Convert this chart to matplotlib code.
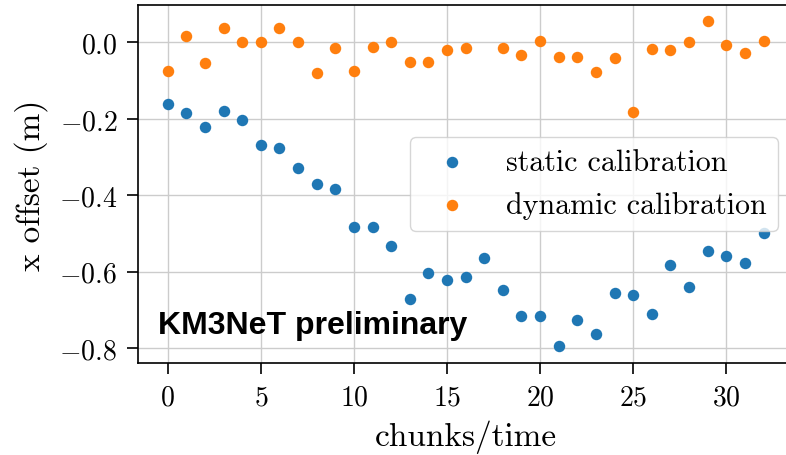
import numpy as np
import matplotlib
matplotlib.use("Agg")
import matplotlib.pyplot as plt

plt.rcParams['font.family'] = 'serif'
plt.rcParams['font.serif'] = ['cmr10']
plt.rcParams['mathtext.fontset'] = 'cm'
plt.rcParams['axes.formatter.use_mathtext'] = True

chunks = list(range(33))
static_cal = [-0.160, -0.184, -0.222, -0.180, -0.204, -0.268, -0.276, -0.329, -0.371, -0.384,
              -0.483, -0.483, -0.532, -0.671, -0.603, -0.623, -0.615, -0.563, -0.647, -0.715,
              -0.715, -0.795, -0.727, -0.763, -0.655, -0.662, -0.711, -0.582, -0.639, -0.547,
              -0.560, -0.578, -0.499]
dynamic_cal = [-0.075, 0.016, -0.055, 0.037, 0.000, 0.000, 0.037, 0.000, -0.080, -0.015,
               -0.075, -0.011, 0.000, -0.051, -0.051, -0.020, -0.015, np.nan, -0.015, -0.033,
               0.004, -0.037, -0.037, -0.078, -0.040, -0.183, -0.016, -0.020, 0.000, 0.057,
               -0.007, -0.028, 0.004]
yticks = [0.0, -0.2, -0.4, -0.6, -0.8]
xticks = [0, 5, 10, 15, 20, 25, 30]

fig = plt.figure(figsize=(7.86, 4.56), dpi=100)
ax = fig.add_axes([138/786, 1 - 364/456, (793.3 - 138)/786, (364 - 6)/456])

ax.scatter(chunks, static_cal, s=68, lw=0, color='#1f77b4', label='static calibration', zorder=3)
ax.scatter(chunks, dynamic_cal, s=68, lw=0, color='#ff7f0e', label='dynamic calibration', zorder=3)

ax.set_xlim(-1.6, 33.6)
ax.set_ylim(-0.839, 0.098)
ax.set_xticks(xticks)
ax.set_yticks(yticks)
ax.set_axisbelow(True)
ax.grid(True, color='#cccccc', lw=1.0)

for side in ['left', 'bottom', 'top']:
    ax.spines[side].set_linewidth(1.2)
ax.spines['right'].set_visible(False)
ax.tick_params(axis='both', which='major', labelsize=20, length=8, width=1.2, pad=7,
               top=False, right=False)

ax.set_xlabel('chunks/time', fontsize=24, labelpad=7)
ax.set_ylabel('x offset (m)', fontsize=24, labelpad=8)

ax.legend(loc='center right', fontsize=21.6, borderaxespad=0.5, handletextpad=0.8)

fig.text(158/786, 1 - 334/456, 'KM3NeT preliminary', family='Liberation Sans',
         weight='bold', fontsize=23, ha='left', va='baseline')

fig.savefig('out.png', dpi=100)
